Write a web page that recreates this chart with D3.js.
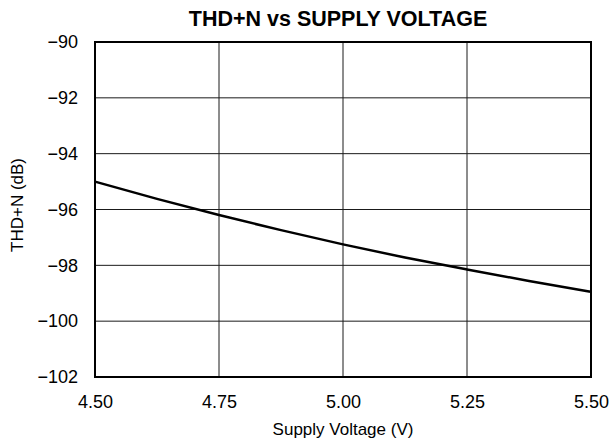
<!doctype html>
<html>
<head>
<style>
  body { margin: 0; background: #fff; }
  text { font-family: "Liberation Sans", Arial, Helvetica, sans-serif; fill: #000; }
</style>
<script src="https://d3js.org/d3.v7.min.js"></script>
</head>
<body>
<svg width="610" height="446"></svg>
<script>
// values
var voltage = [4.50, 4.625, 4.75, 4.875, 5.00, 5.125, 5.25, 5.375, 5.50];
var thdn    = [-95.0, -95.62, -96.2, -96.74, -97.25, -97.72, -98.15, -98.56, -98.95];
var xTicks = [4.50, 4.75, 5.00, 5.25, 5.50];
var yTicks = [-90, -92, -94, -96, -98, -100, -102];

var svg = d3.select("svg"),
    plotL = 95, plotR = 591, plotT = 42, plotB = 377;

var x = d3.scaleLinear().domain([4.5, 5.5]).range([plotL, plotR]);
var y = d3.scaleLinear().domain([-102, -90]).range([plotB, plotT]);

// grid lines
svg.append("g")
   .selectAll("line")
   .data(xTicks.slice(1, -1))
   .enter().append("line")
   .attr("x1", function(d) { return x(d); })
   .attr("x2", function(d) { return x(d); })
   .attr("y1", plotT).attr("y2", plotB)
   .attr("stroke", "#1a1a1a").attr("stroke-width", 1);

svg.append("g")
   .selectAll("line")
   .data(yTicks.slice(1, -1))
   .enter().append("line")
   .attr("y1", function(d) { return y(d); })
   .attr("y2", function(d) { return y(d); })
   .attr("x1", plotL).attr("x2", plotR)
   .attr("stroke", "#1a1a1a").attr("stroke-width", 1);

// the curve
var line = d3.line()
    .x(function(d, i) { return x(voltage[i]); })
    .y(function(d) { return y(d); })
    .curve(d3.curveMonotoneX);

svg.append("path")
   .datum(thdn)
   .attr("d", line)
   .attr("fill", "none")
   .attr("stroke", "#000")
   .attr("stroke-width", 2.5);

// frame
svg.append("rect")
   .attr("x", plotL).attr("y", plotT)
   .attr("width", plotR - plotL).attr("height", plotB - plotT)
   .attr("fill", "none").attr("stroke", "#000").attr("stroke-width", 2);

// axes (labels only)
var xAxis = svg.append("g")
   .attr("transform", "translate(0," + plotB + ")")
   .call(d3.axisBottom(x).tickValues(xTicks).tickSize(0).tickPadding(18)
         .tickFormat(d3.format(".2f")));
xAxis.select(".domain").remove();
xAxis.selectAll("text").style("font-size", "18px").attr("font-family", null);

var yAxis = svg.append("g")
   .attr("transform", "translate(" + plotL + ",0)")
   .call(d3.axisLeft(y).tickValues(yTicks).tickSize(0).tickPadding(17)
         .tickFormat(function(d) { return "\u2212" + Math.abs(d); }));
yAxis.select(".domain").remove();
yAxis.selectAll("text").style("font-size", "18px").attr("font-family", null);

// title and axis titles
svg.append("text")
   .attr("x", 338).attr("y", 26)
   .attr("text-anchor", "middle")
   .style("font-size", "21.5px").style("font-weight", "bold")
   .text("THD+N vs SUPPLY VOLTAGE");

svg.append("text")
   .attr("x", 343).attr("y", 435)
   .attr("text-anchor", "middle")
   .style("font-size", "17px")
   .text("Supply Voltage (V)");

svg.append("text")
   .attr("transform", "translate(23,205) rotate(-90)")
   .attr("text-anchor", "middle")
   .style("font-size", "17px")
   .text("THD+N (dB)");
</script>
</body>
</html>
